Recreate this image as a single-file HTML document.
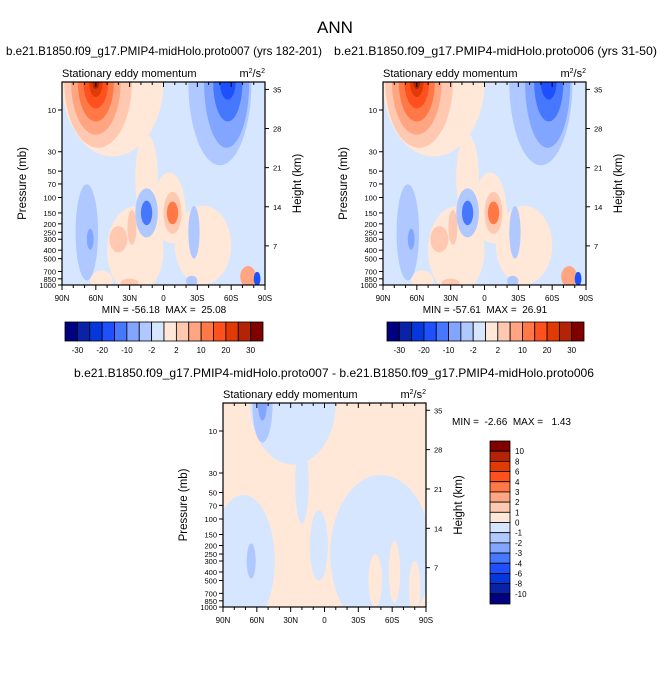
<!DOCTYPE html>
<html><head><meta charset="utf-8"><style>
body{margin:0;background:#fff}
svg{display:block}
text{font-family:"Liberation Sans",sans-serif;fill:#000;white-space:pre}
</style></head><body>
<svg id="fig" width="671" height="692" viewBox="0 0 671 692" xmlns="http://www.w3.org/2000/svg">
<text x="335" y="33" font-size="17" text-anchor="middle">ANN</text>
<text x="6" y="55" font-size="12" textLength="316" lengthAdjust="spacingAndGlyphs">b.e21.B1850.f09_g17.PMIP4-midHolo.proto007 (yrs 182-201)</text>
<text x="334" y="55" font-size="12" textLength="323" lengthAdjust="spacingAndGlyphs">b.e21.B1850.f09_g17.PMIP4-midHolo.proto006 (yrs 31-50)</text>
<text x="74" y="377" font-size="12" textLength="520" lengthAdjust="spacingAndGlyphs">b.e21.B1850.f09_g17.PMIP4-midHolo.proto007 - b.e21.B1850.f09_g17.PMIP4-midHolo.proto006</text>
<g id="panels"></g>
</svg>
<script>
// ---- data ----
const colors = ["#000080","#0a22a8","#0437dc","#1e50ff","#4678ff","#82a5ff","#afc8ff","#d7e6ff","#ffe8d7","#ffc8b0","#ffa582","#ff7846","#ff501e","#e13a05","#b42305","#800000"];
const pressureTicks = [10,30,50,70,100,150,200,250,300,400,500,700,850,1000];
const heightTicks = [7,14,21,28,35];
const latTicks = [90,60,30,0,-30,-60,-90];
const latLabels = ["90N","60N","30N","0","30S","60S","90S"];
const hbarLabels = ["-30","-20","-10","-2","2","10","20","30"];
const vbarLabels = ["10","8","6","4","3","2","1","0","-1","-2","-3","-4","-6","-8","-10"];
// blobs: [lat, pressure(mb), latRadius(deg), logRadius(decades), colorIndex]
const blobLat =   [ 45, 15, 25, -35,  -5,  58, 60, 60, 60, 60, 60,  -50,-56,-57,-57,  68, 65,  15, 15,  -8, -8, -8, -27,  40, 28, -75, -83,  55, 30, -25];
const blobP =     [4.8, 60,400, 350, 130, 4.8,4.8,4.8,4.8,4.8,4.8,  4.8,4.8,4.8,4.8, 250,300, 150,150, 150,150,150, 250, 300,220, 800, 850, 900,950, 900];
const blobLatR =  [ 45, 10, 25,  25,  14,  30, 22, 16, 11,  6,  3,   28, 20, 13,  7,  10,  3,  10,  5,  12,  8,  5,   5,   8,  4,   7,   3,  10,  8,   5];
const blobLogR =  [0.85,0.5,0.5,0.45,0.4, 0.75,0.6,0.45,0.3,0.17,0.08, 0.95,0.75,0.45,0.2, 0.55,0.12, 0.28,0.14, 0.35,0.24,0.13, 0.3, 0.15,0.2, 0.12, 0.08, 0.12,0.05, 0.06];
const blobLev =   [  8,  8,  8,   8,   8,   9, 10, 11, 12, 13, 14,    6,  5,  4,  3,   6,  5,   6,  4,   8,  9, 11,   6,  9,  9,  10,   3,   8,  9,   6];
const blobLat2 =   [ 28, -50, 72, 20,  5, -45, -62, -80, 55, 55, 65];
const blobP2 =     [4.8, 250, 300, 40, 200, 500, 400, 600, 4.8,4.8, 300];
const blobLatR2 =  [ 38,  45, 28,  6,  8,   6,   5,   5,  9,  4,  4];
const blobLogR2 =  [0.7, 0.9, 0.75,0.45,0.4, 0.3, 0.35, 0.3,0.45,0.2,0.2];
const blobLev2 =   [  7,   7,   7,  7,  7,   8,   8,   8,  6,  5,  6];

const NS="http://www.w3.org/2000/svg";
const root=document.getElementById('panels');
function el(tag,attrs,parent){const e=document.createElementNS(NS,tag);for(const k in attrs)e.setAttribute(k,attrs[k]);(parent||root).appendChild(e);return e;}

function panel(id,x0,y0,w,h,bg,lats,ps,lrs,lgs,levs){
  const g=el('g',{});
  
  
  const xs=lat=>x0+(90-lat)/180*w;
  const ys=p=>y0+h-(3-Math.log10(p))/2*(h-28);
  const cp=el('clipPath',{id:id+'-clip'},g);
  el('rect',{x:x0,y:y0,width:w,height:h},cp);
  const bgr=el('rect',{x:x0,y:y0,width:w,height:h,fill:colors[bg]},g);
  
  
  const cg=el('g',{'clip-path':'url(#'+id+'-clip)'},g);
  for(let i=0;i<lats.length;i++){
    const lp=Math.log10(ps[i]);
    const cy=ys(ps[i]);
    const ry=(ys(Math.pow(10,lp+lgs[i]))-cy);
    const e=el('ellipse',{cx:xs(lats[i]),cy:cy,rx:lrs[i]/180*w,ry:Math.abs(ry),fill:colors[levs[i]]},cg);
    
    
  }
  const fr=el('rect',{x:x0,y:y0,width:w,height:h,fill:'none',stroke:'#000','stroke-width':1.2},g);
  
  
  for(let l=90;l>=-90;l-=10){el('line',{x1:xs(l),x2:xs(l),y1:y0,y2:y0+(l%30==0?5:3),stroke:'#000'},g);}
  latTicks.forEach((l,i)=>{
    el('line',{x1:xs(l),x2:xs(l),y1:y0+h,y2:y0+h+5,stroke:'#000'},g);
    const t=el('text',{x:xs(l),y:y0+h+16,'font-size':8,'text-anchor':'middle'},g);
    t.textContent=latLabels[i];
    
    
  });
  for(let l=80;l>-90;l-=10){if(l%30)el('line',{x1:xs(l),x2:xs(l),y1:y0+h,y2:y0+h+3,stroke:'#000'},g);}
  pressureTicks.forEach(p=>{
    el('line',{x1:x0-4,x2:x0,y1:ys(p),y2:ys(p),stroke:'#000'},g);
    const t=el('text',{x:x0-6,y:ys(p)+3,'font-size':7.5,'text-anchor':'end'},g);
    t.textContent=p;
    
    
  });
  heightTicks.forEach(z=>{
    const p=1000*Math.exp(-z/6.8);
    el('line',{x1:x0+w,x2:x0+w+4,y1:ys(p),y2:ys(p),stroke:'#000'},g);
    const t=el('text',{x:x0+w+8,y:ys(p)+3,'font-size':7.5},g);
    t.textContent=z;
    
    
  });
  const yl=el('text',{x:0,y:0,'font-size':11.5,'text-anchor':'middle',transform:`translate(${x0-36},${y0+h/2}) rotate(-90)`},g);
  yl.textContent='Pressure (mb)';
  
  
  const hl=el('text',{x:0,y:0,'font-size':11.5,'text-anchor':'middle',transform:`translate(${x0+w+36},${y0+h/2}) rotate(-90)`},g);
  hl.textContent='Height (km)';
  
  
  const st=el('text',{x:x0,y:y0-5,'font-size':11},g);
  st.textContent='Stationary eddy momentum';
  
  
  const un=el('text',{x:x0+w,y:y0-5,'font-size':11,'text-anchor':'end'},g);
  un.innerHTML='m<tspan font-size="7" dy="-4">2</tspan><tspan dy="4">/s</tspan><tspan font-size="7" dy="-4">2</tspan>';
  
  
}

function hbar(x0,y0,w,h){
  const g=el('g',{});
  
  
  const bw=w/colors.length;
  colors.forEach((c,i)=>{const r=el('rect',{x:x0+i*bw,y:y0,width:bw,height:h,fill:c,stroke:'#000','stroke-width':0.8},g);
    });
  hbarLabels.forEach((s,i)=>{const t=el('text',{x:x0+(2*i+1)*bw,y:y0+h+12,'font-size':8,'text-anchor':'middle'},g);t.textContent=s;
    });
}
function vbar(x0,y0,w,h){
  const g=el('g',{});
  
  
  const bh=h/colors.length;
  colors.slice().reverse().forEach((c,i)=>{const r=el('rect',{x:x0,y:y0+i*bh,width:w,height:bh,fill:c,stroke:'#000','stroke-width':0.8},g);
    });
  vbarLabels.forEach((s,i)=>{const t=el('text',{x:x0+w+5,y:y0+(i+1)*bh+3,'font-size':8},g);t.textContent=s;
    });
}
function label(x,y,s,anchor,name){const t=el('text',{x:x,y:y,'font-size':10,'text-anchor':anchor});t.textContent=s;
  }

panel('left-panel',62,82,203,203,7,blobLat,blobP,blobLatR,blobLogR,blobLev);
panel('right-panel',383,82,203,203,7,blobLat,blobP,blobLatR,blobLogR,blobLev);
panel('diff-panel',223,403,203,204,8,blobLat2,blobP2,blobLatR2,blobLogR2,blobLev2);
label(164,313,'MIN = -56.18  MAX =  25.08','middle','left-min-max');
label(485,313,'MIN = -57.61  MAX =  26.91','middle','right-min-max');
label(452,425,'MIN =  -2.66  MAX =   1.43','start','diff-min-max');
hbar(65,322,198,19);
hbar(387,322,197,19);
vbar(490,441,20,163);
</script>
</body></html>
